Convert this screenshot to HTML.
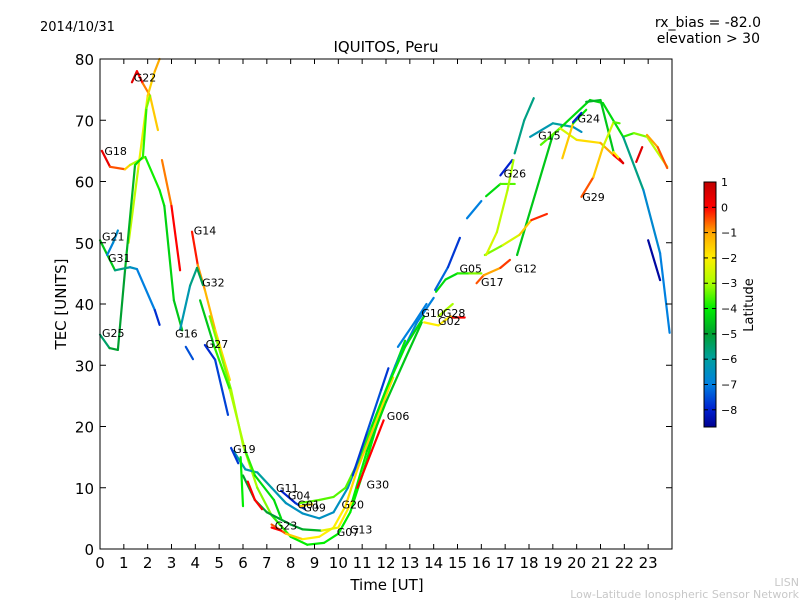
<!DOCTYPE html>
<html><head><meta charset="utf-8"><style>
body{margin:0;background:#fff;}
svg text{font-family:"DejaVu Sans","Liberation Sans",sans-serif;}
</style></head><body>
<svg id="chart" width="800" height="600" viewBox="0 0 800 600">
<defs>
<linearGradient id="cbg" x1="0" y1="1" x2="0" y2="0">
<stop offset="0" stop-color="#000090"/><stop offset="0.072" stop-color="#0020d0"/><stop offset="0.175" stop-color="#0080e0"/><stop offset="0.278" stop-color="#00a0a0"/><stop offset="0.381" stop-color="#00a030"/><stop offset="0.484" stop-color="#00ee00"/><stop offset="0.588" stop-color="#aaff00"/><stop offset="0.691" stop-color="#ffee00"/><stop offset="0.794" stop-color="#ffa500"/><stop offset="0.897" stop-color="#ff0000"/><stop offset="1" stop-color="#c00000"/>
</linearGradient>
</defs>
<text x="40" y="31" font-size="13">2014/10/31</text>
<text x="761" y="27" font-size="14" text-anchor="end">rx_bias = -82.0</text>
<text x="760" y="43" font-size="14" text-anchor="end">elevation &gt; 30</text>
<text x="386" y="52" font-size="15" text-anchor="middle">IQUITOS, Peru</text>
<g id="marks"></g>
<g id="labels"></g>
<rect x="100" y="59" width="572" height="490" fill="none" stroke="#000" stroke-width="1"/>
<g id="axes"></g>
<text x="387" y="590" font-size="15" text-anchor="middle">Time [UT]</text>
<text x="66" y="304" font-size="15" text-anchor="middle" transform="rotate(-90 66 304)">TEC [UNITS]</text>
<rect x="704" y="182" width="12" height="245" fill="url(#cbg)" stroke="#000" stroke-width="1"/>
<g id="cbticks"></g>
<text x="753" y="305" font-size="13" text-anchor="middle" transform="rotate(-90 753 305)">Latitude</text>
<text x="799" y="586" font-size="11" fill="#c8c8c8" text-anchor="end">LISN</text>
<text x="799" y="598" font-size="11" fill="#c8c8c8" text-anchor="end">Low-Latitude Ionospheric Sensor Network</text>
</svg>
<script>
const xTicks=[0,1,2,3,4,5,6,7,8,9,10,11,12,13,14,15,16,17,18,19,20,21,22,23];
const yTicks=[0,10,20,30,40,50,60,70,80];
const cbTicks=[1,0,-1,-2,-3,-4,-5,-6,-7,-8];
const latMin=-8.68, latMax=1;
// each series: [time(h), tec, latitude]
const sG22=[[1.34,76.2,0.5],[1.55,78,0.5],[1.8,76,-0.5],[2.1,74,-1],[2.43,68.4,-2]];
const sRise1=[[1.2,50,-3],[1.6,62,-2.5],[2.0,74,-2],[2.3,78,-1.2],[2.5,80,-1]];
const sG18=[[0.08,65,0.5],[0.42,62.4,0.2],[1.05,62,-1.2],[1.26,62.7,-2],[1.9,64,-3.8],[2.5,58.6,-4],[2.7,56,-4.2],[3.1,40.6,-4.5],[3.45,35.7,-4.5]];
const sRise2=[[0.75,32.5,-5],[1.05,45.5,-5],[1.47,62.7,-4.5],[1.8,64,-4],[1.95,72,-3.5],[2.1,74,-3]];
const sOrDesc=[[2.6,63.5,-1],[3.0,56,-0.5],[3.36,45.5,0.5]];
const sG21=[[0,50.4,-4],[0.63,45.5,-5],[1.26,46,-6.5],[1.55,45.7,-6.5],[2.3,39,-7.5],[2.5,36.6,-8.2]];
const sG25=[[0,35,-6],[0.4,32.8,-5],[0.75,32.5,-5]];
const sG31=[[0.3,48,-7],[0.55,50,-6.8],[0.75,52,-6.5]];
const sG14=[[3.86,51.8,0.5],[4.1,46.4,-0.8],[4.4,42.3,-1],[4.83,35.8,-1.5],[5.45,27.6,-2]];
const sG32=[[3.36,35.8,-6.5],[3.78,43,-6],[4.07,45.9,-5.5],[4.32,43.1,-5]];
const sG16=[[3.6,33,-7.5],[3.9,31,-7.5]];
const sG27=[[4.4,33.3,-8],[4.83,30.9,-7.8],[5.37,21.9,-7.5]];
const sU1=[[4.6,38,-3.5],[5.5,26,-3],[6.0,17,-3],[6.6,10,-3],[7.2,5.5,-3.5],[8.0,2,-4],[8.7,0.7,-4],[9.4,1,-4],[10,2.5,-4],[10.5,6,-4],[11,12,-4],[11.6,20,-4],[12.2,28,-4],[12.8,34,-4]];
const sU2=[[7.2,4,0],[7.8,2.5,-1],[8.5,1.6,-2],[9.2,2,-2],[9.8,3.5,-2],[10.3,7,-2],[10.8,13,-1.5],[11.5,20,-1.5],[12.3,28,-2]];
const sU3=[[6,12,-5],[6.5,8,-5],[7,6,-5],[7.5,5,-5],[8,4,-5],[8.5,3.2,-5],[9.3,3,-4.5],[10,3.5,0],[10.6,8,-4],[11.2,16,-4],[12,24,-4.5],[12.8,31,-4.5],[13.5,37,-4.5]];
const sU4=[[5.6,16,-6],[6.1,13,-6.5],[6.6,12.5,-6],[7.2,10,-6],[7.8,7.5,-6.5],[8.5,5.8,-6.5],[9.2,5,-6.5],[9.8,6,-6.5],[10.4,10,-6.5],[11,16,-6.5],[11.6,22,-6.5],[12.4,30,-6.5],[13.3,37,-7],[14,41,-7]];
const sU5=[[8.4,7.5,-3.5],[9.2,8,-3.5],[9.8,8.5,-3.5],[10.3,10,-3.5],[10.8,14,-3.5],[11.4,20,-4],[12,26,-4],[12.8,33,-4],[13.6,38,-4.5]];
const sGdesc=[[4.2,40.6,-4.5],[4.8,33,-4.5],[5.45,26,-3],[6.08,16.2,-3],[6.5,12,-4.5],[7.3,8,-4],[7.6,5,-4.5]];
const sG04=[[7.6,9.5,-8],[8.2,7.5,-8],[8.6,6.5,-7.5]];
const sG09=[[8.4,7,-1],[8.9,7.3,-2]];
const sG06=[[10.6,12,-8],[11.2,19,-7.5],[11.8,26,-7.5],[12.1,29.5,-8]];
const sG30=[[10.8,10,0],[11.4,16,0],[11.9,21,0]];
const sG23r=[[6.2,11,0],[6.5,8,0],[6.8,6.5,0]];
const sG23b=[[7.2,3.5,0],[7.6,3,0]];
const sG19d=[[5.9,15,-4],[6.0,7,-4]];
const sG19b=[[5.5,16.5,-8],[5.8,14,-7.5]];
const sG10=[[12.5,33,-7],[13.2,37,-7],[13.7,40,-7]];
const sG02=[[13.6,37,-2],[14.2,36.5,-2],[14.7,38,-2],[14.8,37.8,0],[15.3,37.8,0]];
const sG28=[[14.2,38,-3],[14.8,40,-3]];
const sG05=[[14.1,42,-4],[14.5,44,-4.5],[15,45,-4],[15.5,45,-3.5],[16,45,-3]];
const sG10b=[[14.06,42.3,-7],[14.6,46,-7.5],[15.1,50.8,-8]];
const sTeal1=[[15.4,54,-7],[16,56.8,-7]];
const sGreen1=[[16.2,57.6,-4.5],[16.8,59.6,-4],[17.4,59.6,-3]];
const sG26=[[16.8,61,-8],[17.3,63.5,-8]];
const sTeal2=[[17.4,64.6,-6],[17.8,70,-5.5],[18.2,73.6,-6]];
const sG15=[[18.05,67.3,-6.5],[19,69.5,-6],[19.85,68.9,-6],[20.2,68.1,-7]];
const sLong=[[17.5,48,-4.5],[19,67.6,-4.5],[20.56,73.3,-4],[21.1,72.8,-4.5],[21.95,67.3,-4],[22.4,67.9,-3.5],[22.95,67.3,-3],[23.8,62.4,-2.5]];
const sG12=[[16.15,48,-3.5],[16.9,49.6,-3],[17.6,51.3,-2],[18.1,53.7,-1],[18.75,54.7,0.5]];
const sG17y=[[16.2,48,-2.5],[16.65,51.7,-2.5],[17.1,58.6,-3],[17.35,63.5,-3]];
const sG17=[[15.8,43.4,0],[16.1,44.7,-1],[16.8,45.9,-1],[17.2,47.2,0.3]];
const sMix=[[18.5,66,-4],[19.3,68.7,-3],[20,66.8,-2],[21,66.3,-1.5],[21.55,64.3,-0.5],[21.95,63,0.5]];
const sG24o=[[19.4,63.8,-1],[19.85,69.5,-2],[20.4,71.7,-6]];
const sG24=[[19.85,69.7,-8],[20.2,71.2,-8]];
const sTop=[[20.4,73,-5],[21,73.3,-4.5],[21.55,64.8,-4.5],[21.8,63.7,0.5],[21.95,63,0.5]];
const sG29=[[20.2,57.5,0],[20.7,60.7,-1],[21.1,65.6,-2],[21.55,69.7,-3],[21.8,69.5,-4]];
const sRight=[[22.95,67.6,-1],[23.4,65.6,-1],[23.8,62.2,0]];
const sRed=[[22.5,63.2,0.5],[22.75,65.6,0.5]];
const sTealR=[[21.95,67.3,-5],[22.8,58.6,-6.5],[23.5,48.3,-7],[23.9,35.3,-7]];
const sBlueR=[[23,50.4,-8.5],[23.5,43.9,-8.5]];
const series=[sG22,sRise1,sG18,sRise2,sOrDesc,sG21,sG25,sG31,sG14,sG32,sG16,sG27,sU1,sU2,sU3,sU4,sU5,sGdesc,sG04,sG09,sG06,sG30,sG23r,sG23b,sG19d,sG19b,sG10,sG02,sG28,sG05,sG10b,sTeal1,sGreen1,sG26,sTeal2,sG15,sLong,sG12,sG17y,sG17,sMix,sG24o,sG24,sTop,sG29,sRight,sRed,sTealR,sBlueR];
const seriesNames=['G22','rise-a','G18','rise-b','orange-desc','G21','G25','G31','G14','G32','G16','G27','night-u1','G13','G23','G11','G20','desc-green','G04','G09','G06','G30','G23-red','G23-red-b','G19-dots','G19-blue','G10','G02','G28','G05','G10-blue','teal-a','green-a','G26','teal-b','G15','long-green','G12','G17-yellow','G17','mixed','G24-orange','G24','top-teal','G29','right-orange','red-short','teal-right','blue-right'];
const satLabels=['G22','G18','G21','G31','G25','G14','G32','G16','G27','G19','G11','G04','G01','G09','G23','G20','G07','G13','G30','G06','G10','G28','G02','G05','G17','G12','G26','G15','G24','G29'];
const satLabelPos=[[1.33,77],[0.1,65],[0,51],[0.25,47.5],[0,35.3],[3.85,52],[4.2,43.5],[3.07,35.2],[4.35,33.5],[5.5,16.3],[7.3,10],[7.8,8.7],[8.2,7.3],[8.45,6.8],[7.25,3.8],[10.05,7.3],[9.85,2.8],[10.4,3.2],[11.1,10.5],[11.95,21.7],[13.4,38.5],[14.3,38.5],[14.1,37.2],[15,45.8],[15.9,43.6],[17.3,45.8],[16.85,61.3],[18.3,67.5],[19.95,70.3],[20.15,57.5]];
const X=t=>100+t*572/24, Y=v=>549-v*490/80;
const stops=[[-8.68,[0,0,144]],[-8,[0,32,208]],[-7,[0,128,224]],[-6,[0,160,160]],[-5,[0,160,48]],[-4,[0,238,0]],[-3,[170,255,0]],[-2,[255,238,0]],[-1,[255,165,0]],[0,[255,0,0]],[1,[192,0,0]]];
function col(l){l=Math.max(latMin,Math.min(latMax,l));for(let i=0;i<stops.length-1;i++){const a=stops[i],b=stops[i+1];if(l<=b[0]){const f=(l-a[0])/(b[0]-a[0]);const c=a[1].map((v,k)=>Math.round(v+(b[1][k]-v)*f));return `rgb(${c})`;}}return 'rgb(192,0,0)';}
const NS='http://www.w3.org/2000/svg';
function mk(tag,attrs,parent){const e=document.createElementNS(NS,tag);for(const k in attrs)e.setAttribute(k,attrs[k]);parent.appendChild(e);return e;}
const marks=document.getElementById('marks');
series.forEach((s,si)=>{
  const g=mk('g',{},marks);
  
  
  for(let i=0;i<s.length-1;i++){
    const a=s[i],b=s[i+1];
    const ln=mk('line',{x1:X(a[0]),y1:Y(a[1]),x2:X(b[0]),y2:Y(b[1]),stroke:col((a[2]+b[2])/2),'stroke-width':2.2,'stroke-linecap':'round'},g);
    
    
  }
});
const lab=document.getElementById('labels');
satLabels.forEach((n,i)=>{
  const t=mk('text',{x:X(satLabelPos[i][0])+2,y:Y(satLabelPos[i][1])+4,'font-size':11},lab);
  t.textContent=n;
  
  
});
const ax=document.getElementById('axes');
xTicks.forEach(t=>{
  const x=X(t);
  mk('line',{x1:x,y1:549,x2:x,y2:544,stroke:'#000'},ax);
  mk('line',{x1:x,y1:59,x2:x,y2:64,stroke:'#000'},ax);
  const tx=mk('text',{x:x,y:568,'font-size':15,'text-anchor':'middle'},ax);
  tx.textContent=t;
  
  
});
yTicks.forEach(v=>{
  const y=Y(v);
  mk('line',{x1:100,y1:y,x2:106,y2:y,stroke:'#000'},ax);
  mk('line',{x1:672,y1:y,x2:666,y2:y,stroke:'#000'},ax);
  const tx=mk('text',{x:94,y:y+6,'font-size':15,'text-anchor':'end'},ax);
  tx.textContent=v;
  
  
});
const cb=document.getElementById('cbticks');
cbTicks.forEach(v=>{
  const y=427-(v-latMin)*245/(latMax-latMin);
  mk('line',{x1:704,y1:y,x2:708,y2:y,stroke:'#000'},cb);
  mk('line',{x1:716,y1:y,x2:712,y2:y,stroke:'#000'},cb);
  const tx=mk('text',{x:721,y:y+4,'font-size':11},cb);
  tx.textContent=v<0?'\u2212'+(-v):v;
  
  
});
</script>
</body></html>
